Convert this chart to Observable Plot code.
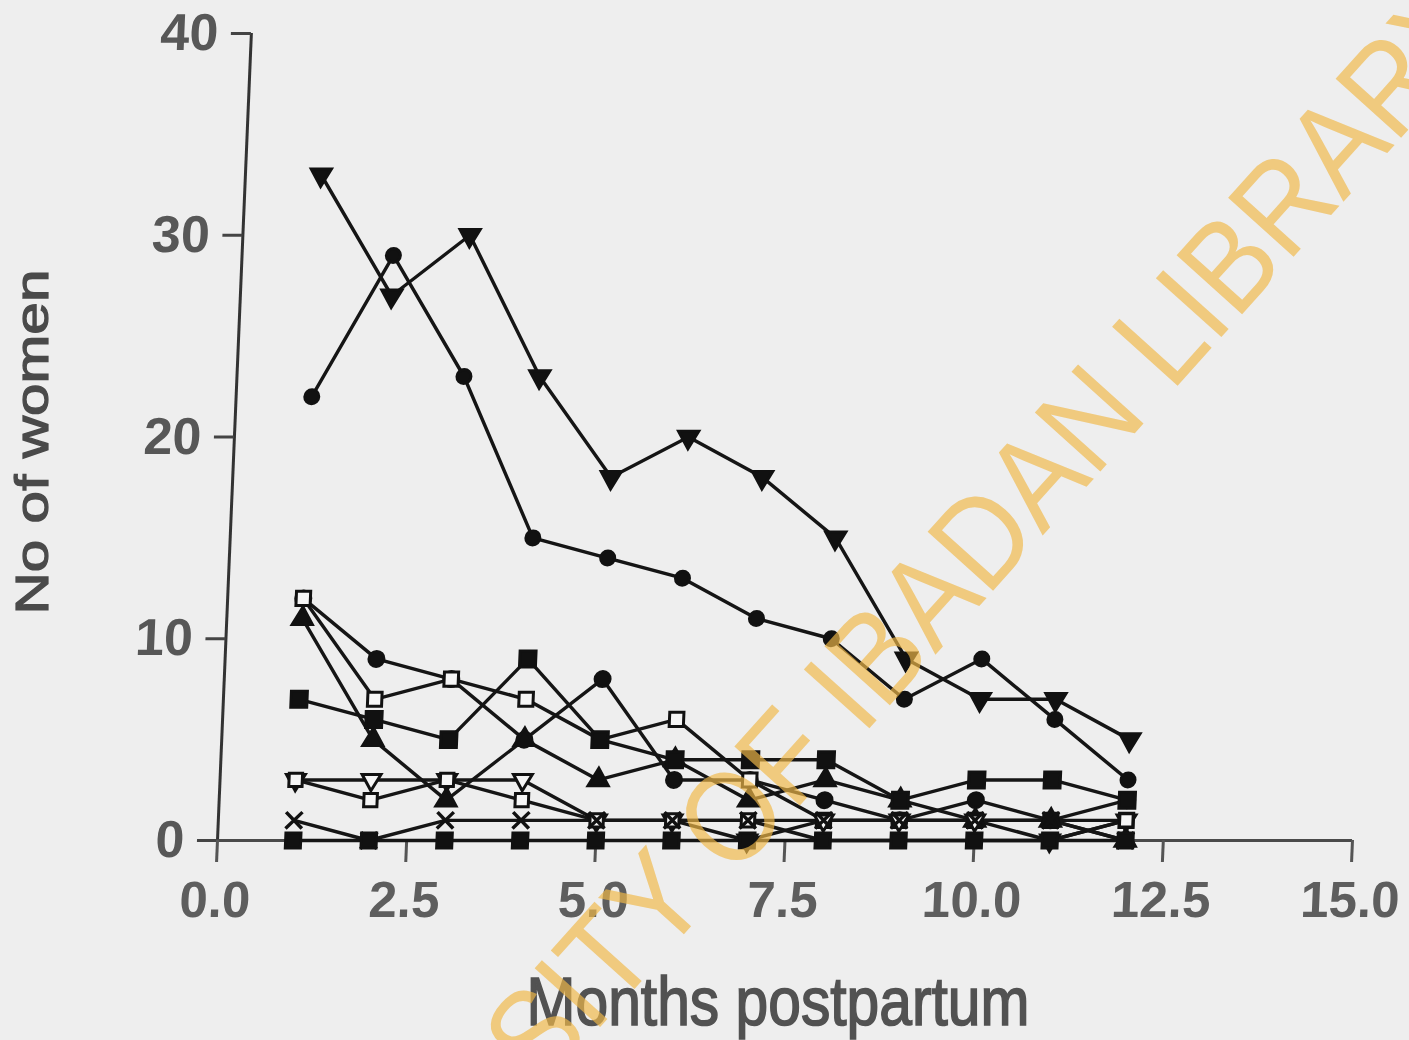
<!DOCTYPE html>
<html>
<head>
<meta charset="utf-8">
<script src="https://cdn.jsdelivr.net/npm/d3@7"></script>
<script src="https://cdn.jsdelivr.net/npm/@observablehq/plot@0.6"></script>
<style>
html, body { margin: 0; padding: 0; background: #eeeeee; }
#chart { width: 1409px; height: 1040px; overflow: hidden; }
svg { display: block; }
</style>
</head>
<body>
<div id="chart"></div>
<script>
// ---------- data ----------
const months = [1, 2, 3, 4, 5, 6, 7, 8, 9, 10, 11, 12];
const xTicks = [0, 2.5, 5, 7.5, 10, 12.5, 15];
const yTicks = [0, 10, 20, 30, 40];

const triDownTop   = [33, 27, 30, 23, 18, 20, 18, 15, 9, 7, 7, 5];
const circleTop    = [22, 29, 23, 15, 14, 13, 11, 10, 7, 9, 6, 3];
const circleLow    = [12, 9, 8, 5, 8, 3, 3, 2, 1, 2, 1, 2];
const openSquareA  = [12, 7, 8, 7, 5, 6, 3, 1, 1, 1, 1, 1];
const triUpLow     = [11, 5, 2, 5, 3, 4, 2, 3, 2, 1, 1, 0];
const squareLow    = [7, 6, 5, 9, 5, 4, 4, 4, 2, 3, 3, 2];
const openTriDown  = [3, 3, 3, 3, 1, 1, 0, 1, 1, 1, 0, 1];
const openSquareB  = [3, 2, 3, 2, 1, 1, 1, 0, 0, 0, 0, 1];
const crossLow     = [1, 0, 1, 1, 1, 1, 1, 1, 1, 1, 1, 0];
const zeroLow      = [0, 0, 0, 0, 0, 0, 0, 0, 0, 0, 0, 0];

const xTitle = "Months postpartum";
const yTitle = "No of women";
const watermark = "UNIVERSITY OF IBADAN LIBRARY";

// ---------- symbols ----------
const sqrt3 = Math.sqrt(3);
const triangleDown = {
  draw(context, size) {
    const y = -Math.sqrt(size / (sqrt3 * 3));
    context.moveTo(0, -y * 2);
    context.lineTo(-sqrt3 * y, y);
    context.lineTo(sqrt3 * y, y);
    context.closePath();
  }
};

const seriesList = [
  {name: "triDownTop",  values: triDownTop},
  {name: "circleTop",   values: circleTop},
  {name: "circleLow",   values: circleLow},
  {name: "openSquareA", values: openSquareA},
  {name: "triUpLow",    values: triUpLow},
  {name: "squareLow",   values: squareLow},
  {name: "openTriDown", values: openTriDown},
  {name: "openSquareB", values: openSquareB},
  {name: "crossLow",    values: crossLow},
  {name: "zeroLow",     values: zeroLow}
];

const styles = {
  triDownTop:  {symbol: triangleDown, r: 7.5, fill: "#111"},
  circleTop:   {symbol: "circle",     r: 7,   fill: "#111"},
  circleLow:   {symbol: "circle",     r: 7.5, fill: "#111"},
  openSquareA: {symbol: "square",     r: 8,   fill: "#f6f6f6"},
  triUpLow:    {symbol: "triangle",   r: 7.5, fill: "#111"},
  squareLow:   {symbol: "square",     r: 9,   fill: "#111"},
  openTriDown: {symbol: triangleDown, r: 7,   fill: "#f6f6f6"},
  openSquareB: {symbol: "square",     r: 7.5, fill: "#f6f6f6"},
  crossLow:    {symbol: "times",      r: 7.5, fill: "none"},
  zeroLow:     {symbol: "square",     r: 8.5, fill: "#111"}
};

const rows = seriesList.flatMap(s =>
  months.map((m, i) => ({series: s.name, month: m, count: s.values[i]}))
);

const dotMarks = seriesList.map(s => {
  const st = styles[s.name];
  return Plot.dot(rows.filter(d => d.series === s.name), {
    x: "month", y: "count",
    symbol: st.symbol, r: st.r,
    fill: st.fill, stroke: "#111",
    strokeWidth: st.fill === "none" ? 3.5 : 3
  });
});

const chart = Plot.plot({
  width: 1409,
  height: 1040,
  marginLeft: 217,
  marginRight: 57,
  marginTop: 33,
  marginBottom: 200,
  x: {domain: [0, 15]},
  y: {domain: [0, 40]},
  style: {background: "transparent", fontFamily: "'Liberation Sans', Arial, sans-serif", overflow: "visible"},
  marks: [
    Plot.ruleX([0], {stroke: "#333", strokeWidth: 3}),
    Plot.ruleY([0], {stroke: "#4a4a4a", strokeWidth: 3}),
    Plot.axisY(yTicks, {
      tickSize: 20, tickPadding: 13, fontSize: 52, fontWeight: "bold",
      fill: "#575757", stroke: "#444", strokeWidth: 3, label: null
    }),
    Plot.axisX(xTicks, {
      tickFormat: d3.format(".1f"), tickSize: 22, tickPadding: 18,
      fontSize: 51, fontWeight: "bold",
      fill: "#5e5e5e", stroke: "#555", strokeWidth: 3, label: null
    }),
    Plot.line(rows, {x: "month", y: "count", z: "series", stroke: "#151515", strokeWidth: 3.4}),
    ...dotMarks
  ]
});

// slight shear like the scanned page (axis leans to the right at the top)
const k1 = 0.042;
const ns = "http://www.w3.org/2000/svg";
const g = document.createElementNS(ns, "g");
g.setAttribute("transform", `matrix(1,0,${-k1},1,${840 * k1},0)`);
while (chart.firstChild) g.appendChild(chart.firstChild);
chart.appendChild(g);

const svg = d3.select(chart);
svg.append("text")
  .attr("x", 778).attr("y", 1025)
  .attr("text-anchor", "middle")
  .attr("font-family", "'Liberation Sans', Arial, sans-serif")
  .attr("font-size", 68)
  .attr("textLength", 503)
  .attr("lengthAdjust", "spacingAndGlyphs")
  .attr("fill", "#525252")
  .attr("stroke", "#525252")
  .attr("stroke-width", 1.6)
  .text(xTitle);

svg.append("text")
  .attr("transform", "translate(48,442) rotate(-90)")
  .attr("text-anchor", "middle")
  .attr("font-family", "'Liberation Sans', Arial, sans-serif")
  .attr("font-size", 47)
  .attr("textLength", 345)
  .attr("lengthAdjust", "spacingAndGlyphs")
  .attr("fill", "#4a4a4a")
  .attr("stroke", "#4a4a4a")
  .attr("stroke-width", 1.2)
  .text(yTitle);

svg.append("text")
  .attr("transform", "translate(842,692) rotate(-48)")
  .attr("text-anchor", "middle")
  .attr("dominant-baseline", "central")
  .attr("font-family", "'Liberation Sans', Arial, sans-serif")
  .attr("font-size", 128)
  .attr("textLength", 1870)
  .attr("lengthAdjust", "spacingAndGlyphs")
  .attr("fill", "#f0b848")
  .attr("fill-opacity", 0.68)
  .text(watermark);

document.getElementById("chart").appendChild(chart);
</script>
</body>
</html>
